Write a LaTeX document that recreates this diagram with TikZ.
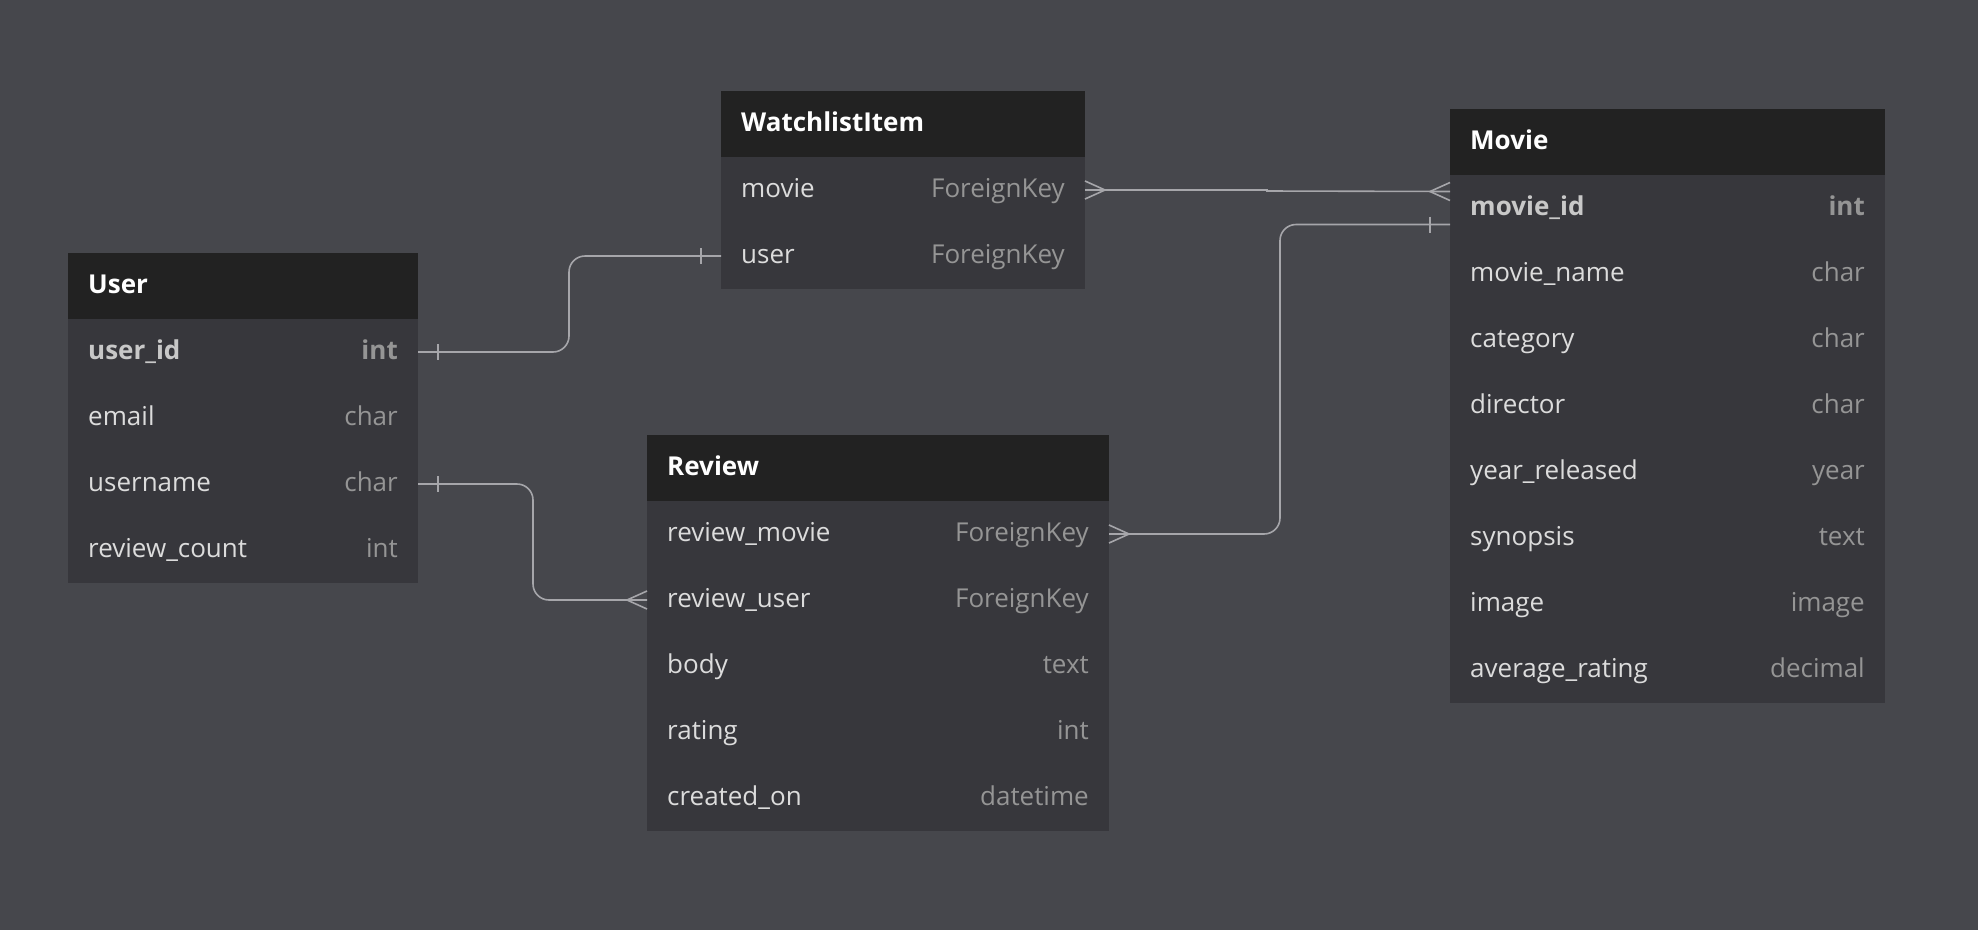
\documentclass[tikz,border=0pt]{standalone}
\usepackage{fontspec}
\setmainfont{Open Sans}
\usetikzlibrary{calc}
\definecolor{bgc}{HTML}{46474C}
\definecolor{rowc}{HTML}{37373C}
\definecolor{hdrc}{HTML}{222222}
\definecolor{linec}{HTML}{A6A6AA}
\definecolor{namec}{HTML}{DCDCDC}
\definecolor{typec}{HTML}{959595}
\definecolor{keyc}{HTML}{C8C8C8}
\tikzset{
  hdr/.style={fill=hdrc, draw=none, inner sep=0, outer sep=0, minimum height=66pt},
  rowbox/.style={fill=rowc, draw=none, inner sep=0, outer sep=0, minimum height=66pt},
  hdrtext/.style={inner sep=0, text=white, font=\fontsize{26}{30}\selectfont\bfseries},
  fnamen/.style={inner sep=0, text=namec, font=\fontsize{26}{30}\selectfont},
  fnameb/.style={inner sep=0, text=keyc, font=\fontsize{26}{30}\selectfont\bfseries},
  ftypen/.style={inner sep=0, text=typec, font=\fontsize{26}{30}\selectfont},
  ftypeb/.style={inner sep=0, text=typec, font=\fontsize{26}{30}\selectfont\bfseries},
  conn/.style={draw=linec, line width=1.6pt},
}
\newcommand\ertable[6]{%
  \node[hdr, minimum width={#3-#2}, anchor=north west] (#1-h) at (#2,#4) {};
  \node[hdrtext, anchor=base west] (#1-title) at ($(#1-h.west)+(20,7)$) {#5};
  \foreach \fa/\fb/\fc [count=\i] in {#6} {
    \node[rowbox, minimum width={#3-#2}, anchor=north west] (#1-r\i) at (#2,{#4+66*\i}) {};
    \node[fname\fc, anchor=base west] (#1-n\i) at ($(#1-r\i.west)+(20,7)$) {\fa};
    \node[ftype\fc, anchor=base east] (#1-t\i) at ($(#1-r\i.east)+(-20,7)$) {\fb};
  }}
% crow's foot: #1 point on box edge, #2 = +1 if line leaves to the right, -1 to the left
\newcommand\crowfoot[2]{%
  \draw[conn] ($(#1)+(#2*20,0)$) -- ($(#1)+(0,-9)$)
              ($(#1)+(#2*20,0)$) -- ($(#1)+(0,9)$);}
\newcommand\onebar[2]{%
  \draw[conn] ($(#1)+(#2*20,-8)$) -- ($(#1)+(#2*20,8)$);}
\begin{document}
\begin{tikzpicture}[x=1pt, y=-1pt]
\fill[bgc] (0,0) rectangle (1978,930);
\useasboundingbox (0,0) rectangle (1978,930);

\ertable{user}{68}{418}{253}{User}{user\_id/int/b, email/char/n, username/char/n, review\_count/int/n}
\ertable{watch}{721}{1085}{91}{WatchlistItem}{movie/ForeignKey/n, user/ForeignKey/n}
\ertable{review}{647}{1109}{435}{Review}{review\_movie/ForeignKey/n, review\_user/ForeignKey/n, body/text/n, rating/int/n, created\_on/datetime/n}
\ertable{movie}{1450}{1885}{109}{Movie}{movie\_id/int/b, movie\_name/char/n, category/char/n, director/char/n, year\_released/year/n, synopsis/text/n, image/image/n, average\_rating/decimal/n}

\coordinate (mA) at ($(movie-r1.north west)!.25!(movie-r1.south west)$);
\coordinate (mB) at ($(movie-r1.north west)!.75!(movie-r1.south west)$);

% User.user_id -- WatchlistItem.user
\draw[conn, rounded corners=16pt] (user-r1.east) -- ++(151,0) |- (watch-r2.west);
\onebar{user-r1.east}{1}
\onebar{watch-r2.west}{-1}

% User.username -- Review.review_user
\draw[conn, rounded corners=16pt] (user-r3.east) -- ++(115,0) |- (review-r2.west);
\onebar{user-r3.east}{1}
\crowfoot{review-r2.west}{-1}

% WatchlistItem.movie -- Movie.movie_id
\draw[conn] (watch-r1.east) -- ++(182,0) -- ++(0,1) -- (mA);
\crowfoot{watch-r1.east}{1}
\crowfoot{mA}{-1}

% Review.review_movie -- Movie.movie_id
\draw[conn, rounded corners=16pt] (review-r1.east) -- ++(171,0) |- (mB);
\crowfoot{review-r1.east}{1}
\onebar{mB}{-1}
\end{tikzpicture}
\end{document}
